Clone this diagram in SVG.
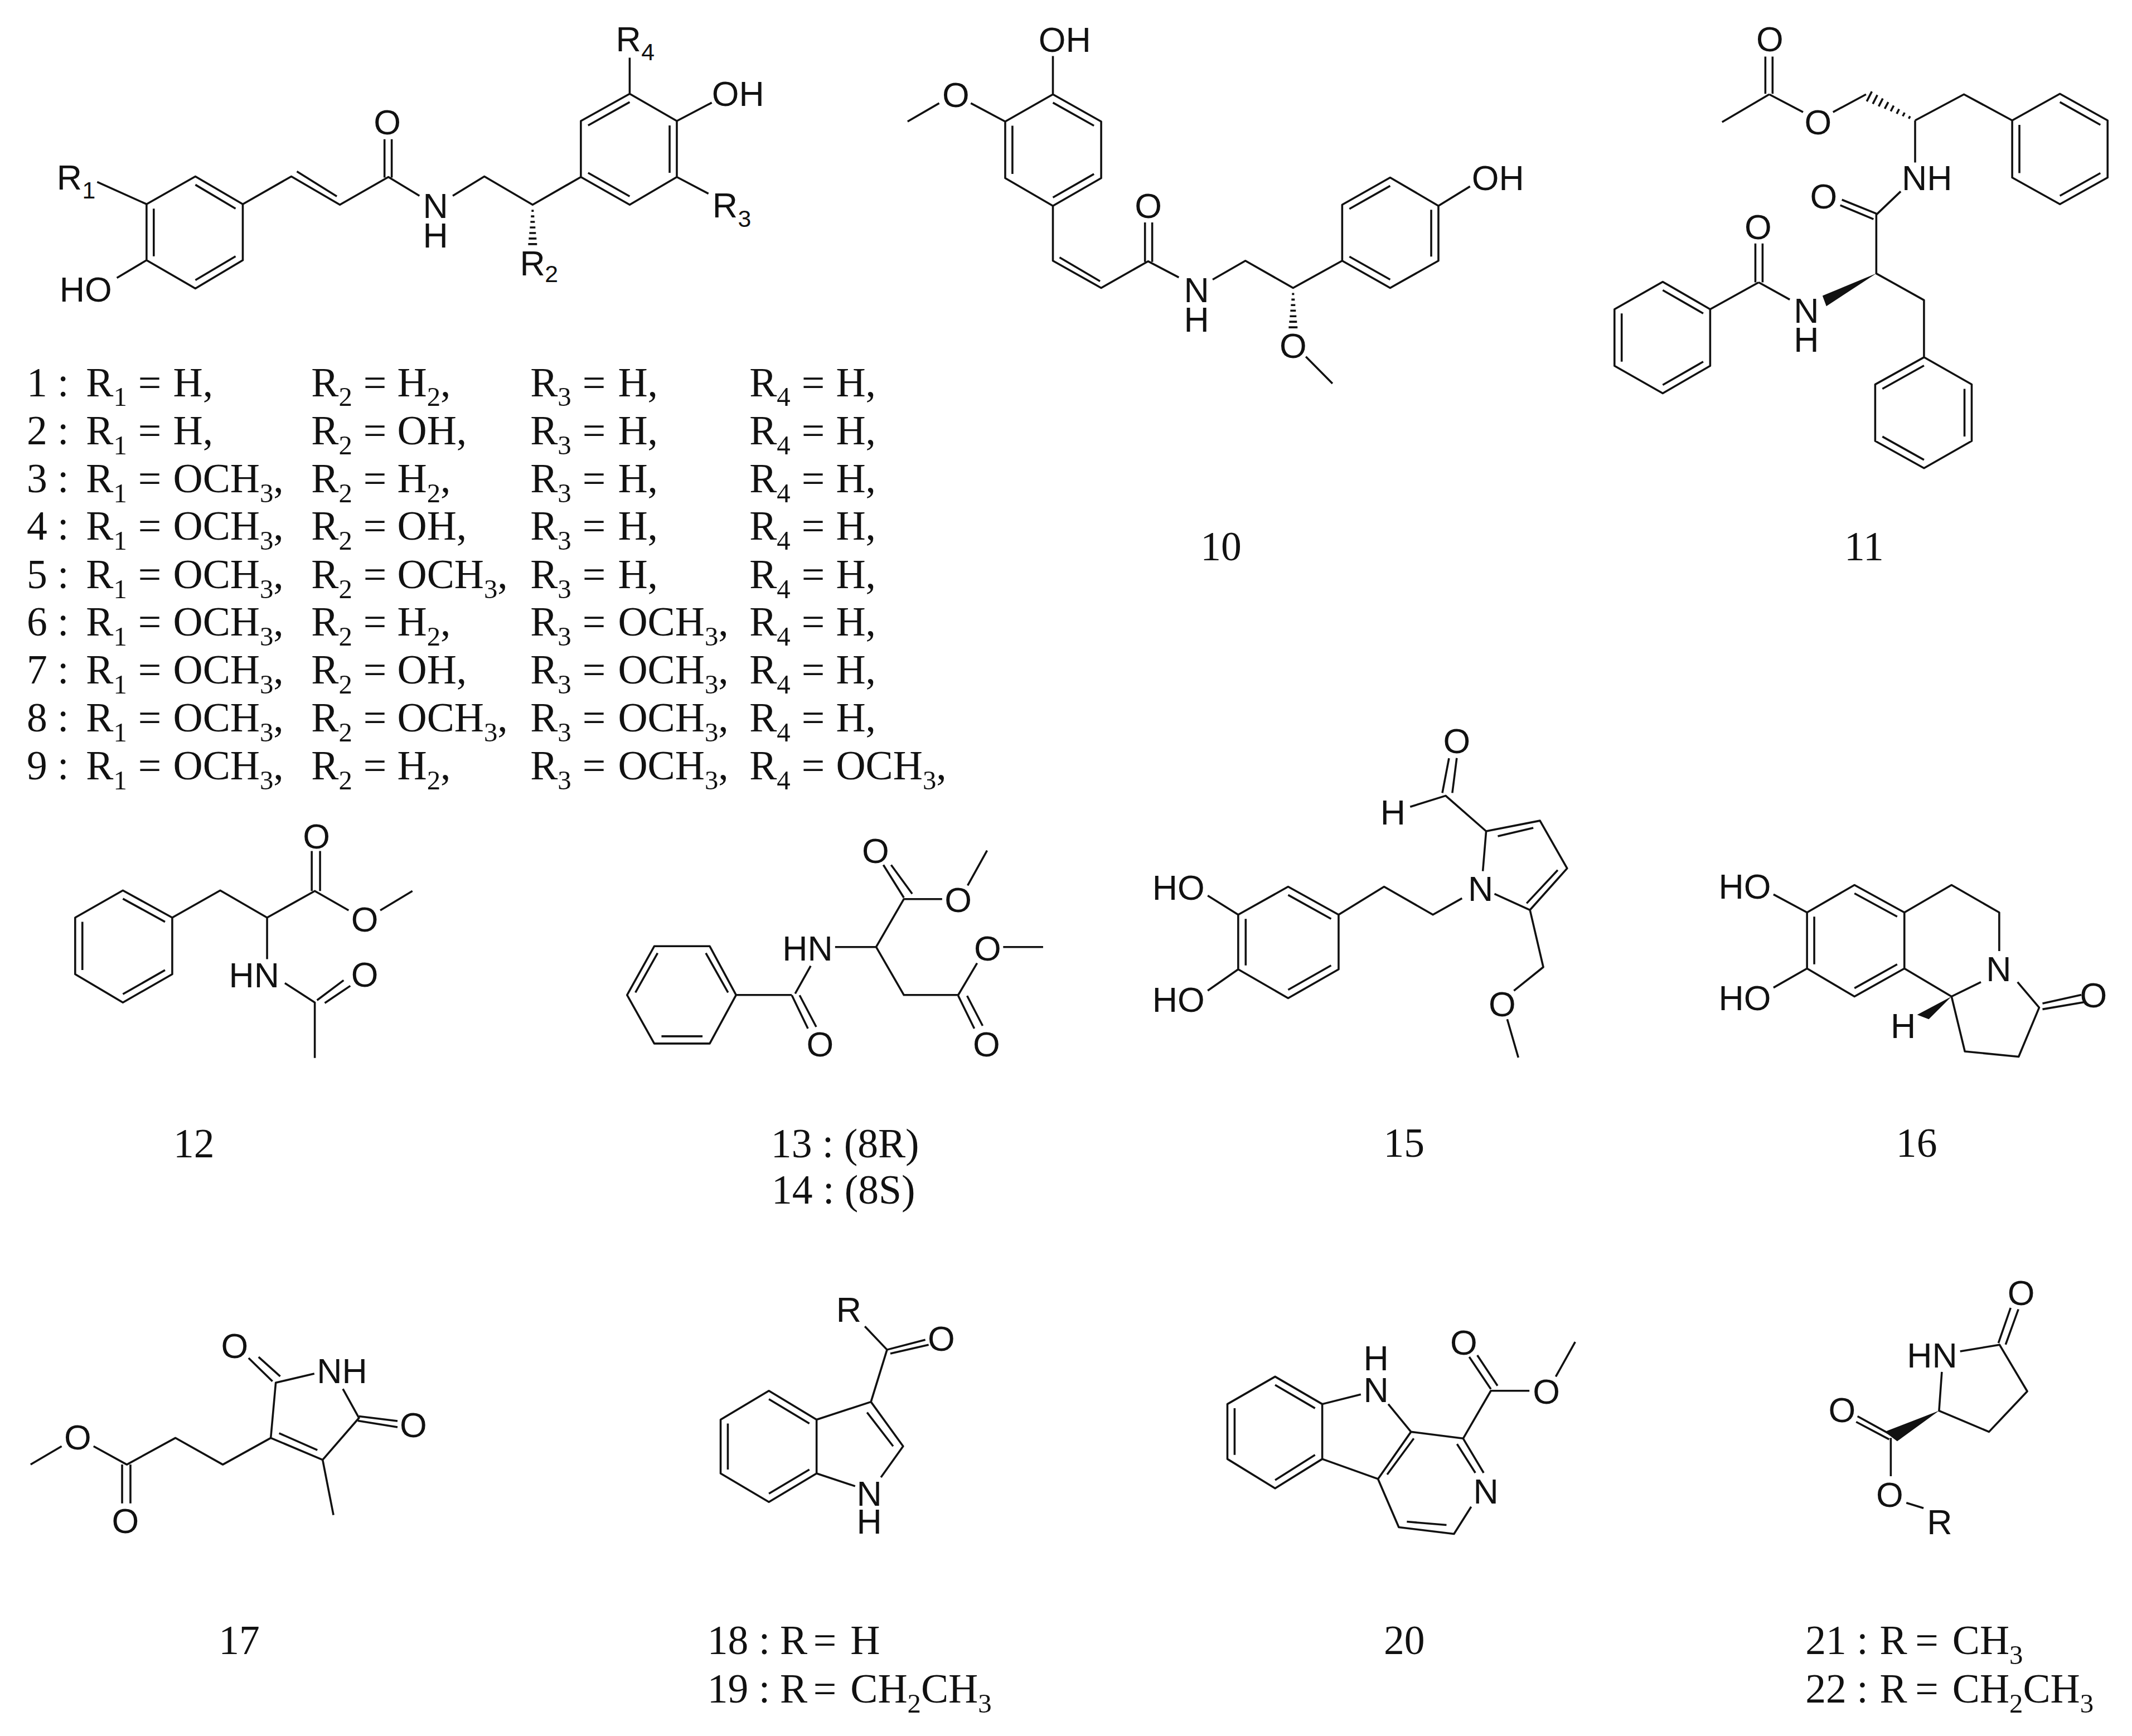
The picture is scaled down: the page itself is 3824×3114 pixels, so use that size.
<svg xmlns="http://www.w3.org/2000/svg" width="3824" height="3114" viewBox="0 0 3824 3114">
<style>
.b{fill:none;stroke:#111;stroke-width:3.6;stroke-linejoin:round}
.w{fill:#111;stroke:none}
.a{font-family:"Liberation Sans",Arial,sans-serif;font-size:63px;fill:#111}
.c{text-anchor:middle}
.as{font-family:"Liberation Sans",Arial,sans-serif;font-size:43px;fill:#111}
.t{font-family:"Liberation Serif","Times New Roman",serif;font-size:74px;fill:#111}
.s{font-size:49px}
.m{text-anchor:middle}
</style>
<rect width="3824" height="3114" fill="#fff"/>
<g id="compound-1-9" transform="translate(40 20) scale(.9949) translate(-40 -20)">
<path class="b" d="M264 368L352 318L437.500 368V469L352 520L264 469ZM277 376V462M352 333L424.500 376M424.500 462L352 505M437.500 368L525 318L612.500 369L700 319L756 353M535 309L607 354M693 251V320M706 251V320M816 353L873 318L960 369L1047 319L1135 369L1220 319V218L1135 169L1047 218V319M1060 311.500L1135 354M1207 311.500V226M1135 184L1060 226M1135 169V104M1220 218L1283 185M1220 319L1277 349M264 368L175 328M264 469L210.500 501"/>
<path class="b" d="M958 380h4M957 390h6M956 400h8M955 410h10M954 420h12M953 430h14M952 440h16"/>
<text class="a" x="102" y="342">R</text><text class="as" x="148" y="358">1</text>
<text class="a" x="107" y="544">HO</text>
<text class="a" x="1283" y="191">OH</text>
<text class="a" x="1284" y="392">R</text><text class="as" x="1330" y="409">3</text>
<text class="a" x="937" y="496">R</text><text class="as" x="982" y="509">2</text>
<text class="a" x="1110" y="92">R</text><text class="as" x="1156" y="108">4</text>
<text class="a c" x="698" y="242">O</text>
<text class="a c" x="785" y="393">N</text>
<text class="a c" x="785" y="446">H</text>
</g>
<g id="table" transform="translate(30 630) scale(.9949) translate(-30 -630)">
<text class="t" x="48" y="711">1 :<tspan x="155">R</tspan><tspan class="s" dy="18">1</tspan><tspan x="249" dy="-18">=</tspan><tspan x="312">H,</tspan><tspan x="561">R</tspan><tspan class="s" dy="18">2</tspan><tspan x="655" dy="-18">=</tspan><tspan x="716">H</tspan><tspan class="s" dy="18">2</tspan><tspan dy="-18">,</tspan><tspan x="956">R</tspan><tspan class="s" dy="18">3</tspan><tspan x="1050" dy="-18">=</tspan><tspan x="1114">H,</tspan><tspan x="1351">R</tspan><tspan class="s" dy="18">4</tspan><tspan x="1445" dy="-18">=</tspan><tspan x="1507">H,</tspan></text>
<text class="t" x="48" y="798">2 :<tspan x="155">R</tspan><tspan class="s" dy="18">1</tspan><tspan x="249" dy="-18">=</tspan><tspan x="312">H,</tspan><tspan x="561">R</tspan><tspan class="s" dy="18">2</tspan><tspan x="655" dy="-18">=</tspan><tspan x="716">OH,</tspan><tspan x="956">R</tspan><tspan class="s" dy="18">3</tspan><tspan x="1050" dy="-18">=</tspan><tspan x="1114">H,</tspan><tspan x="1351">R</tspan><tspan class="s" dy="18">4</tspan><tspan x="1445" dy="-18">=</tspan><tspan x="1507">H,</tspan></text>
<text class="t" x="48" y="884">3 :<tspan x="155">R</tspan><tspan class="s" dy="18">1</tspan><tspan x="249" dy="-18">=</tspan><tspan x="312">OCH</tspan><tspan class="s" dy="18">3</tspan><tspan dy="-18">,</tspan><tspan x="561">R</tspan><tspan class="s" dy="18">2</tspan><tspan x="655" dy="-18">=</tspan><tspan x="716">H</tspan><tspan class="s" dy="18">2</tspan><tspan dy="-18">,</tspan><tspan x="956">R</tspan><tspan class="s" dy="18">3</tspan><tspan x="1050" dy="-18">=</tspan><tspan x="1114">H,</tspan><tspan x="1351">R</tspan><tspan class="s" dy="18">4</tspan><tspan x="1445" dy="-18">=</tspan><tspan x="1507">H,</tspan></text>
<text class="t" x="48" y="970">4 :<tspan x="155">R</tspan><tspan class="s" dy="18">1</tspan><tspan x="249" dy="-18">=</tspan><tspan x="312">OCH</tspan><tspan class="s" dy="18">3</tspan><tspan dy="-18">,</tspan><tspan x="561">R</tspan><tspan class="s" dy="18">2</tspan><tspan x="655" dy="-18">=</tspan><tspan x="716">OH,</tspan><tspan x="956">R</tspan><tspan class="s" dy="18">3</tspan><tspan x="1050" dy="-18">=</tspan><tspan x="1114">H,</tspan><tspan x="1351">R</tspan><tspan class="s" dy="18">4</tspan><tspan x="1445" dy="-18">=</tspan><tspan x="1507">H,</tspan></text>
<text class="t" x="48" y="1057">5 :<tspan x="155">R</tspan><tspan class="s" dy="18">1</tspan><tspan x="249" dy="-18">=</tspan><tspan x="312">OCH</tspan><tspan class="s" dy="18">3</tspan><tspan dy="-18">,</tspan><tspan x="561">R</tspan><tspan class="s" dy="18">2</tspan><tspan x="655" dy="-18">=</tspan><tspan x="716">OCH</tspan><tspan class="s" dy="18">3</tspan><tspan dy="-18">,</tspan><tspan x="956">R</tspan><tspan class="s" dy="18">3</tspan><tspan x="1050" dy="-18">=</tspan><tspan x="1114">H,</tspan><tspan x="1351">R</tspan><tspan class="s" dy="18">4</tspan><tspan x="1445" dy="-18">=</tspan><tspan x="1507">H,</tspan></text>
<text class="t" x="48" y="1143">6 :<tspan x="155">R</tspan><tspan class="s" dy="18">1</tspan><tspan x="249" dy="-18">=</tspan><tspan x="312">OCH</tspan><tspan class="s" dy="18">3</tspan><tspan dy="-18">,</tspan><tspan x="561">R</tspan><tspan class="s" dy="18">2</tspan><tspan x="655" dy="-18">=</tspan><tspan x="716">H</tspan><tspan class="s" dy="18">2</tspan><tspan dy="-18">,</tspan><tspan x="956">R</tspan><tspan class="s" dy="18">3</tspan><tspan x="1050" dy="-18">=</tspan><tspan x="1114">OCH</tspan><tspan class="s" dy="18">3</tspan><tspan dy="-18">,</tspan><tspan x="1351">R</tspan><tspan class="s" dy="18">4</tspan><tspan x="1445" dy="-18">=</tspan><tspan x="1507">H,</tspan></text>
<text class="t" x="48" y="1229">7 :<tspan x="155">R</tspan><tspan class="s" dy="18">1</tspan><tspan x="249" dy="-18">=</tspan><tspan x="312">OCH</tspan><tspan class="s" dy="18">3</tspan><tspan dy="-18">,</tspan><tspan x="561">R</tspan><tspan class="s" dy="18">2</tspan><tspan x="655" dy="-18">=</tspan><tspan x="716">OH,</tspan><tspan x="956">R</tspan><tspan class="s" dy="18">3</tspan><tspan x="1050" dy="-18">=</tspan><tspan x="1114">OCH</tspan><tspan class="s" dy="18">3</tspan><tspan dy="-18">,</tspan><tspan x="1351">R</tspan><tspan class="s" dy="18">4</tspan><tspan x="1445" dy="-18">=</tspan><tspan x="1507">H,</tspan></text>
<text class="t" x="48" y="1316">8 :<tspan x="155">R</tspan><tspan class="s" dy="18">1</tspan><tspan x="249" dy="-18">=</tspan><tspan x="312">OCH</tspan><tspan class="s" dy="18">3</tspan><tspan dy="-18">,</tspan><tspan x="561">R</tspan><tspan class="s" dy="18">2</tspan><tspan x="655" dy="-18">=</tspan><tspan x="716">OCH</tspan><tspan class="s" dy="18">3</tspan><tspan dy="-18">,</tspan><tspan x="956">R</tspan><tspan class="s" dy="18">3</tspan><tspan x="1050" dy="-18">=</tspan><tspan x="1114">OCH</tspan><tspan class="s" dy="18">3</tspan><tspan dy="-18">,</tspan><tspan x="1351">R</tspan><tspan class="s" dy="18">4</tspan><tspan x="1445" dy="-18">=</tspan><tspan x="1507">H,</tspan></text>
<text class="t" x="48" y="1402">9 :<tspan x="155">R</tspan><tspan class="s" dy="18">1</tspan><tspan x="249" dy="-18">=</tspan><tspan x="312">OCH</tspan><tspan class="s" dy="18">3</tspan><tspan dy="-18">,</tspan><tspan x="561">R</tspan><tspan class="s" dy="18">2</tspan><tspan x="655" dy="-18">=</tspan><tspan x="716">H</tspan><tspan class="s" dy="18">2</tspan><tspan dy="-18">,</tspan><tspan x="956">R</tspan><tspan class="s" dy="18">3</tspan><tspan x="1050" dy="-18">=</tspan><tspan x="1114">OCH</tspan><tspan class="s" dy="18">3</tspan><tspan dy="-18">,</tspan><tspan x="1351">R</tspan><tspan class="s" dy="18">4</tspan><tspan x="1445" dy="-18">=</tspan><tspan x="1507">OCH</tspan><tspan class="s" dy="18">3</tspan><tspan dy="-18">,</tspan></text>
</g>
<g id="compound-10" transform="translate(1600 20) scale(.9949) translate(-1600 -20)">
<path class="b" d="M1890 170L1977 219V321L1890 371L1804 321V219ZM1890 185L1964 226.600M1964 313.600L1890 356M1817 313.600V226.600M1890 170V101M1804 219L1742 186M1685 186L1628 219M1890 371V470L1977 519L2061.500 471L2117 500M1902 464L1975 507M2056 401V472M2069 401V472M2178 504L2237 470L2323 519L2411.500 470L2498 519L2585 470V371L2498 320L2411.500 369V470M2424.500 462.500L2498 504M2572 462.500V378M2498 335L2424.500 376.600M2585 371L2642 336M2346 643L2394 691.500"/>
<path class="b" d="M2321 530h4M2320 540h6M2319 550h8M2318 560h10M2317 570h12M2316 580h14M2315 590h16"/>
<text class="a" x="1864" y="93">OH</text>
<text class="a c" x="1715" y="193">O</text>
<text class="a c" x="2062" y="393">O</text>
<text class="a c" x="2149" y="545">N</text>
<text class="a c" x="2149" y="598">H</text>
<text class="a" x="2645" y="343">OH</text>
<text class="a c" x="2323" y="645">O</text>
<text class="t m" x="2193" y="1010">10</text>
</g>
<g id="compound-11" transform="translate(2850 20) scale(.9949) translate(-2850 -20)">
<path class="b" d="M3168 102V169M3181 102V169M3175 170L3090 220M3175 170L3236 202M3290 202L3349.500 170M3438 217L3526 170L3613 217L3699 169L3785 217V320L3699 368L3613 320V217M3699 184L3772 225M3772 312L3699 353M3626 312V225M3438 217V293M3412 345L3368 387V493L3454 541V644L3540 693V795L3454 844L3366 795V693L3454 644M3454 659L3379 701M3527 701V787M3454 829L3379 787M3306 360L3368 385M3303 370L3363 395M3150 439V509M3163 439V509M3156 509L3212 540M3156 509L3068.500 557.500L2983 508L2896 557.500V659.500L2983 709L3068.500 659.500V557.500M2983 523L3056 565M2909 565V652M2983 694L3056 652"/>
<path class="b" d="M3428.900 209.300L3426.500 213.900M3419.100 202.900L3415.700 209.500M3409.200 196.600L3404.800 205M3399.400 190.300L3394 200.500M3389.600 183.900L3383.200 196.100M3379.700 177.500L3372.300 191.700M3369.900 171.200L3361.700 187.200M3360 164.900L3350.800 182.700"/>
<polygon class="w" points="3368,493 3271,533 3278,552"/>
<text class="a c" x="3176" y="92">O</text>
<text class="a c" x="3263" y="242">O</text>
<text class="a" x="3414" y="343">NH</text>
<text class="a c" x="3273" y="376">O</text>
<text class="a c" x="3155" y="431">O</text>
<text class="a c" x="3242" y="582">N</text>
<text class="a c" x="3242" y="634">H</text>
<text class="t m" x="3346" y="1010">11</text>
</g>
<g id="compound-12" transform="translate(100 1450) scale(.9949) translate(-100 -1450)">
<path class="b" d="M310 1647L221 1598L135 1647V1749L221 1800L310 1749ZM221 1613L297 1654.600M148 1654.600V1741.600M221 1785L297 1741.600M310 1647L396.500 1598L481 1647L567 1599L628 1634M561.500 1527V1599M576.500 1527V1599M685 1634L743 1599M481 1647V1722M513 1765L567 1800V1900M571 1796L619 1760M585 1801L631 1770"/>
<text class="a c" x="570" y="1522">O</text>
<text class="a c" x="657" y="1672">O</text>
<text class="a" x="412" y="1773">HN</text>
<text class="a c" x="657" y="1772">O</text>
<text class="t m" x="349" y="2079">12</text>
</g>
<g id="compound-13-14" transform="translate(100 1450) scale(.9949) translate(-100 -1450)">
<path class="b" d="M1326.500 1786.500L1279 1698.600H1179L1130 1786.500L1179 1874H1279ZM1272 1711L1312 1782M1185 1711L1145 1782M1192 1861H1266M1326.500 1786.500H1427M1427 1787L1456 1847M1441 1787L1471 1844M1433 1784L1461 1734M1505 1700H1579L1629 1613.500H1698M1592 1552L1629 1611M1606 1552L1644 1604M1744 1589L1779 1526M1579 1700L1629 1786.500H1727L1761 1729M1727 1788L1756 1847M1743 1788L1771 1842M1808 1700H1880"/>
<text class="a c" x="1478" y="1897">O</text>
<text class="a" x="1410" y="1724">HN</text>
<text class="a c" x="1578" y="1549">O</text>
<text class="a c" x="1727" y="1637">O</text>
<text class="a c" x="1778" y="1897">O</text>
<text class="a c" x="1780" y="1724">O</text>
<text class="t m" x="1523" y="2079">13 : (8R)</text>
<text class="t m" x="1520" y="2163">14 : (8S)</text>
</g>
<g id="compound-15" transform="translate(2000 1300) scale(.9949) translate(-2000 -1300)">
<path class="b" d="M2222 1642.500L2312 1592L2403 1642.500V1741L2312 1793L2222 1741ZM2312 1607L2389.500 1650M2235.500 1650V1734M2389.500 1734L2312 1778M2222 1642.500L2167 1608M2222 1741L2167 1779.500M2403 1642.500L2485 1592L2573 1642.500L2625.500 1613M2663 1564L2669 1492L2766 1473L2815 1559L2748 1634L2684 1605M2690 1501L2754 1486M2798 1562L2742 1622M2669 1492L2596 1428L2532 1448M2590 1423L2602 1360.500M2608 1423L2616 1360M2748 1634L2772 1737L2719 1779.500M2707 1831L2727 1900"/>
<text class="a" x="2067" y="1616">HO</text>
<text class="a" x="2067" y="1818">HO</text>
<text class="a c" x="2659" y="1618">N</text>
<text class="a c" x="2501" y="1480">H</text>
<text class="a c" x="2616" y="1351">O</text>
<text class="a c" x="2698" y="1826">O</text>
<text class="t m" x="2521" y="2079">15</text>
</g>
<g id="compound-16" transform="translate(2000 1300) scale(.9949) translate(-2000 -1300)">
<path class="b" d="M3247.500 1638.500L3333 1589L3423 1638.500V1739.500L3333 1790L3247.500 1739.500ZM3333 1604L3410 1646M3260.500 1646V1732M3333 1775L3410 1732M3247.500 1638.500L3187 1606M3247.500 1739.500L3187 1774M3423 1638.500L3508 1589L3594 1638.500V1708M3423 1739.500L3508 1790L3561 1764M3508 1790L3532 1889L3629 1898.500L3666 1810L3627 1764M3672 1802.500L3742 1787M3672 1813L3748 1800"/>
<polygon class="w" points="3508,1790 3446,1823 3467,1831"/>
<text class="a" x="3088" y="1614">HO</text>
<text class="a" x="3088" y="1815">HO</text>
<text class="a c" x="3593" y="1762">N</text>
<text class="a c" x="3764" y="1810">O</text>
<text class="a c" x="3421" y="1865">H</text>
<text class="t m" x="3445" y="2079">16</text>
</g>
<g id="compound-17" transform="translate(30 2250) scale(.9949) translate(-30 -2250)">
<path class="b" d="M55 2629L111 2596M168.500 2596L228.500 2629L316 2581L401.500 2629L488 2581L581.500 2620.500L647 2545L618 2492.500M488 2581L497 2481.500L566.500 2465M503 2572.500L572 2603M220 2629V2699M235 2629V2699M448 2437L491 2479M466 2435L505 2470M647 2542L716.500 2550.500M645 2550L716.500 2561.500M581.500 2620.500L601 2720"/>
<text class="a c" x="140" y="2602">O</text>
<text class="a c" x="226" y="2753">O</text>
<text class="a" x="571" y="2482">NH</text>
<text class="a c" x="423" y="2437">O</text>
<text class="a c" x="745" y="2580">O</text>
<text class="t m" x="431" y="2971">17</text>
</g>
<g id="compound-18-19" transform="translate(30 2250) scale(.9949) translate(-30 -2250)">
<path class="b" d="M1559 2380L1599 2422M1599 2422L1668 2404M1605 2429L1674 2413M1599 2422L1570 2516L1628 2596L1588 2652M1563 2535L1610 2596M1541.500 2668L1472 2645V2548L1386 2496L1299 2548V2645L1386 2696.500L1472 2645M1472 2548L1570 2516M1386 2511L1459 2555M1312 2555V2638M1386 2681.500L1459 2638"/>
<text class="a c" x="1530" y="2372">R</text>
<text class="a c" x="1697" y="2424">O</text>
<text class="a c" x="1567" y="2703">N</text>
<text class="a c" x="1567" y="2754">H</text>
<text class="t" x="1275" y="2971">18 :<tspan x="1406">R</tspan><tspan x="1466">=</tspan><tspan x="1533">H</tspan></text>
<text class="t" x="1275" y="3058">19 :<tspan x="1406">R</tspan><tspan x="1466">=</tspan><tspan x="1533">CH</tspan><tspan class="s" dy="18">2</tspan><tspan dy="-18">CH</tspan><tspan class="s" dy="18">3</tspan></text>
</g>
<g id="compound-20" transform="translate(2100 2250) scale(.9949) translate(-2100 -2250)">
<path class="b" d="M2202 2520L2288 2470.500L2373 2520V2619L2288 2672L2202 2619ZM2288 2485.500L2360 2527.500M2215 2527.500V2611.500M2288 2657L2360 2611.500M2373 2520L2442.600 2502.500M2492 2520L2533 2570L2473.500 2655L2373 2619M2490 2647L2538 2582M2533 2570L2627 2582L2664 2644M2616 2592L2649 2644M2641.500 2705L2610.500 2754L2511 2742L2473.500 2655M2525.500 2732L2597 2738M2627 2582L2677 2496H2746.500M2638 2435L2677 2493M2652.500 2432L2689 2487M2794 2470.500L2829 2408"/>
<text class="a c" x="2470" y="2459">H</text>
<text class="a c" x="2470" y="2516">N</text>
<text class="a c" x="2628" y="2431">O</text>
<text class="a c" x="2777" y="2519">O</text>
<text class="a c" x="2668" y="2699">N</text>
<text class="t m" x="2521" y="2971">20</text>
</g>
<g id="compound-21-22" transform="translate(2100 2250) scale(.9949) translate(-2100 -2250)">
<path class="b" d="M3592 2410L3614 2346.500M3605 2412.600L3628 2349M3523 2425L3594 2413L3644 2497L3575 2570L3485 2532L3490 2462M3338 2542L3398 2575M3335.500 2552L3395 2583.500M3398 2581V2650M3426 2698L3457 2707.600"/>
<polygon class="w" points="3485,2532 3387,2570 3409.500,2587"/>
<text class="a c" x="3633" y="2341">O</text>
<text class="a" x="3427" y="2454">HN</text>
<text class="a c" x="3310" y="2553">O</text>
<text class="a c" x="3396" y="2705">O</text>
<text class="a c" x="3486" y="2755">R</text>
<text class="t" x="3244" y="2971">21 :<tspan x="3378">R</tspan><tspan x="3442">=</tspan><tspan x="3509">CH</tspan><tspan class="s" dy="18">3</tspan></text>
<text class="t" x="3244" y="3058">22 :<tspan x="3378">R</tspan><tspan x="3442">=</tspan><tspan x="3509">CH</tspan><tspan class="s" dy="18">2</tspan><tspan dy="-18">CH</tspan><tspan class="s" dy="18">3</tspan></text>
</g>
</svg>
